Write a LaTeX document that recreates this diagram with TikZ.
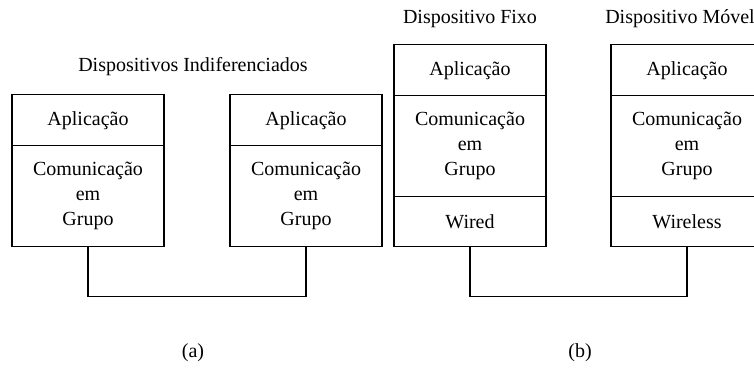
\documentclass[tikz,border=0pt]{standalone}
\usepackage{fontspec}
\setmainfont{Liberation Serif}
\usetikzlibrary{positioning}
\tikzset{
  camada/.style={draw, line width=0.6pt, minimum width=76pt, inner sep=0pt, outer sep=0pt, align=center},
  aplic/.style={camada, minimum height=25.5pt},
  grupo/.style={camada, minimum height=50.5pt},
  rede/.style={camada, minimum height=25pt},
  titulo/.style={anchor=base}
}
\begin{document}
\begin{tikzpicture}[x=0.5pt, y=-0.5pt, font=\fontsize{10}{12.5}\selectfont, line width=0.6pt]
\useasboundingbox (0,0) rectangle (754,371);
% (a) dispositivos indiferenciados
\node[titulo] (titA) at (193,71.6) {Dispositivos Indiferenciados};
\node[aplic] (apl1) at (88,120.3) {Aplicação};
\node[grupo, below=0pt of apl1] (grp1) {Comunicação\\em\\Grupo};
\node[aplic] (apl2) at (306,120.3) {Aplicação};
\node[grupo, below=0pt of apl2] (grp2) {Comunicação\\em\\Grupo};
\draw (grp1.south) -- ++(0,-25pt) -| (grp2.south);
% (b) fixo e movel
\node[titulo] (titFixo) at (470,23.3) {Dispositivo Fixo};
\node[aplic] (apl3) at (470,70.3) {Aplicação};
\node[grupo, below=0pt of apl3] (grp3) {Comunicação\\em\\Grupo};
\node[rede, below=0pt of grp3] (wired) {Wired};
\node[titulo] (titMovel) at (680,23.3) {Dispositivo Móvel};
\node[aplic] (apl4) at (687,70.3) {Aplicação};
\node[grupo, below=0pt of apl4] (grp4) {Comunicação\\em\\Grupo};
\node[rede, below=0pt of grp4] (wireless) {Wireless};
\draw (wired.south) -- ++(0,-25pt) -| (wireless.south);
% Legendas
\node[titulo] (legA) at (193,357) {(a)};
\node[titulo] (legB) at (580,357) {(b)};
\end{tikzpicture}
\end{document}
